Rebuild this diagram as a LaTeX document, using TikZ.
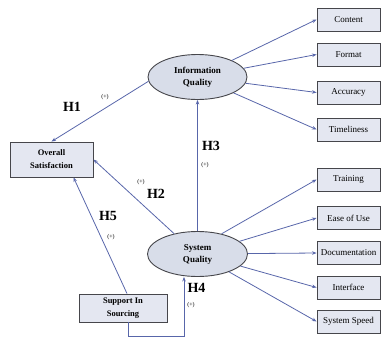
\documentclass[tikz,border=0pt]{standalone}
\usepackage{fontspec}
\setmainfont{Liberation Serif}
\usetikzlibrary{shapes.geometric,arrows.meta}

\definecolor{linkblue}{RGB}{88,102,170}
\definecolor{boxfill}{RGB}{228,231,241}
\definecolor{ovalfill}{RGB}{216,221,233}
\definecolor{edgegrey}{RGB}{70,70,75}

\begin{document}
\begin{tikzpicture}[x=1pt,y=-1pt,
  measure/.style={draw=edgegrey,fill=boxfill,line width=0.9pt,minimum width=63pt,minimum height=23pt,inner sep=1pt,font=\fontsize{9}{10}\selectfont},
  construct/.style={ellipse,draw=edgegrey,fill=ovalfill,line width=0.9pt,minimum width=99pt,minimum height=45pt,inner sep=0pt,align=center,font=\bfseries\fontsize{9}{12}\selectfont},
  outcome/.style={draw=edgegrey,fill=boxfill,line width=0.9pt,align=center,inner sep=0pt,font=\bfseries\fontsize{8.5}{13}\selectfont},
  link/.style={draw=linkblue,line width=0.8pt,-{Stealth[length=4.5pt,width=3.5pt]}},
  hyp/.style={font=\bfseries\fontsize{14}{14}\selectfont,inner sep=0pt},
  sign/.style={font=\fontsize{6}{6}\selectfont,inner sep=0pt}]
\useasboundingbox (0,0) rectangle (381,338);

% Latent constructs
\node[construct] (iq) at (197.5,77) {Information\\Quality};
\node[construct,minimum width=100pt] (sq) at (197.5,254) {System\\Quality};
\node[outcome,minimum width=83pt,minimum height=35pt] (os) at (51.5,159.5) {Overall\\Satisfaction};
\node[outcome,minimum width=88pt,minimum height=28pt] (sis) at (123,308) {Support In\\Sourcing};

% Information quality indicators
\node[measure] (content) at (348.5,19.5) {Content};
\node[measure] (format) at (348.5,54.5) {Format};
\node[measure] (accuracy) at (348.5,92.5) {Accuracy};
\node[measure] (timeliness) at (348.5,129.5) {Timeliness};

% System quality indicators
\node[measure] (training) at (348.5,179.5) {Training};
\node[measure] (easeofuse) at (348.5,218) {Ease of Use};
\node[measure] (documentation) at (348.5,253) {Documentation};
\node[measure] (interface) at (348.5,287.5) {Interface};
\node[measure] (systemspeed) at (348.5,321.5) {System Speed};

\draw[link] (iq) -- (content.west);
\draw[link] (iq) -- (format.west);
\draw[link] (iq) -- (accuracy.west);
\draw[link] (iq) -- (timeliness.west);

\draw[link] (sq.40) -- (training.west);
\draw[link] (sq) -- (easeofuse.west);
\draw[link] (sq) -- (documentation.west);
\draw[link] (sq) -- (interface.west);
\draw[link] (sq) -- (systemspeed.west);

% Hypothesised paths
\coordinate (h4corner) at (184,336);
\draw[link] (iq.185) -- (os.north);
\draw[link] (sq.139) -- (os.east);
\draw[link] (sq) -- (iq);
\draw[link] ([xshift=5pt]sis.south) |- (h4corner) -- (sq.south -| h4corner);
\draw[link] ([xshift=4pt]sis.north) -- ([xshift=22pt]os.south);

% Path labels
\node[hyp] (h1) at (72,107) {H1};
\node[sign] (s1) at (105,97) {(+)};
\node[hyp] (h2) at (156,194) {H2};
\node[sign] (s2) at (141,182) {(+)};
\node[hyp] (h3) at (211,146) {H3};
\node[sign] (s3) at (205,165) {(+)};
\node[hyp] (h4) at (196.5,287.5) {H4};
\node[sign] (s4) at (191,305) {(+)};
\node[hyp] (h5) at (108,216) {H5};
\node[sign] (s5) at (111,237) {(+)};

\end{tikzpicture}
\end{document}
